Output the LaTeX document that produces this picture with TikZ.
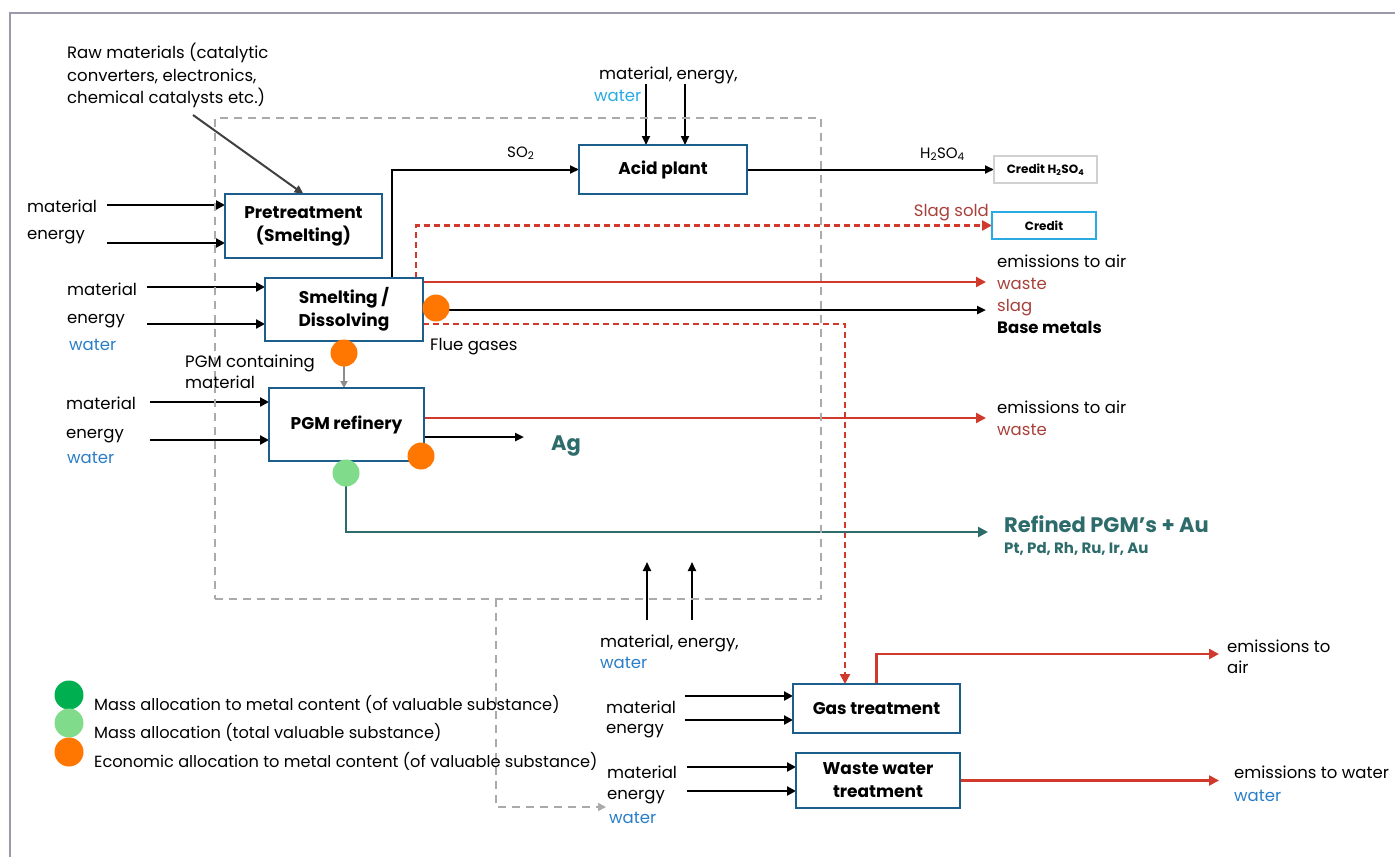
\documentclass[tikz,border=0pt]{standalone}
\usepackage{fontspec}
\setmainfont{Poppins}
\usetikzlibrary{arrows.meta,calc}
\definecolor{boxblue}{HTML}{1B5E8C}
\definecolor{myred}{HTML}{D0392B}
\definecolor{slagred}{HTML}{A8403A}
\definecolor{wblue}{HTML}{2A7EC8}
\definecolor{lblue}{HTML}{29ABE2}
\definecolor{tealc}{HTML}{2E6B6B}
\definecolor{orng}{HTML}{FF7700}
\definecolor{lgreen}{HTML}{80DC8A}
\definecolor{dgreen}{HTML}{00B050}
\definecolor{dashgray}{HTML}{AAAAAA}
\definecolor{framec}{HTML}{9A9AAA}
\definecolor{credgray}{HTML}{D0D0D0}
\pgfdeclarelayer{bg}
\pgfsetlayers{bg,main}
\begin{document}
\begin{tikzpicture}[x=1pt,y=-1pt,
  proc/.style={draw=boxblue, line width=1.6pt, fill=white, align=center, inner sep=0pt, outer sep=0pt, font=\bfseries\fontsize{17}{23}\selectfont},
  lbl/.style={anchor=base west, inner sep=0pt, font=\fontsize{16.5}{20}\selectfont},
  lblE/.style={anchor=base east, inner sep=0pt, font=\fontsize{16.5}{20}\selectfont},
  legtxt/.style={lbl, font=\fontsize{16.2}{20}\selectfont},
  arr/.style={-{Triangle[length=9pt,width=9pt]}, line width=2.5pt},
  thinarr/.style={-{Triangle[length=9pt,width=8pt]}, line width=2pt},
  redarr/.style={-{Triangle[length=10pt,width=10pt]}, draw=myred, line width=2.4pt},
  reddash/.style={redarr, dash pattern=on 6pt off 4pt},
  dot/.style={circle, inner sep=0pt, outer sep=0pt, minimum size=27pt},
  credbox/.style={draw, line width=1.5pt, fill=white, inner sep=0pt, outer sep=0pt, font=\bfseries\fontsize{12}{14}\selectfont}
]
\useasboundingbox (0,0) rectangle (1395,857);
% frame
\draw[framec, line width=1.5pt] (10,857) -- (10,13) -- (1395,13);
% system boundary
\node[draw=dashgray, line width=1.6pt, dash pattern=on 8pt off 6pt, minimum width=606pt, minimum height=481pt, inner sep=0pt, outer sep=0pt] (sys) at (518,358.5) {};

% process boxes
\node[proc, minimum width=157pt, minimum height=64pt] (pre) at (303.5,226) {Pretreatment\\(Smelting)};
\node[proc, minimum width=158pt, minimum height=63pt] (smelt) at (344,309.5) {Smelting /\\Dissolving};
\node[proc, minimum width=168pt, minimum height=49pt] (acid) at (663,169.5) {Acid plant};
\node[proc, minimum width=155pt, minimum height=73pt] (pgm) at (346.5,424.5) {PGM refinery};
\node[proc, minimum width=167pt, minimum height=49pt] (gas) at (876.5,708.5) {Gas treatment};
\node[proc, minimum width=164pt, minimum height=55pt] (ww) at (878,780.5) {Waste water\\treatment};
\node[credbox, draw=credgray, minimum width=103pt, minimum height=27pt] (credh) at (1045.5,169.5) {Credit H\textsubscript{2}SO\textsubscript{4}};
\node[credbox, draw=lblue, minimum width=104pt, minimum height=27pt] (cred) at (1044,225.5) {Credit};

% allocation dots
\node[dot, fill=orng] (od1) at (436,308) {};
\node[dot, fill=orng] (od2) at (344,353) {};
\node[dot, fill=orng] (od3) at (421,456) {};
\node[dot, fill=lgreen] (gd) at (346,473) {};

% text labels
\node[lbl] (raw1) at (67,58) {Raw materials (catalytic};
\node[lbl] (raw2) at (67,81) {converters, electronics,};
\node[lbl] (raw3) at (67,103) {chemical catalysts etc.)};
\node[lbl] (tm1) at (27,212) {material};
\node[lbl] (te1) at (27,239) {energy};
\node[lbl] (tm2) at (67,295) {material};
\node[lbl] (te2) at (67,323) {energy};
\node[lbl, text=wblue] (tw2) at (69,350) {water};
\node[lbl] (tpgm1) at (185,367) {PGM containing};
\node[lbl] (tpgm2) at (185,388) {material};
\node[lbl] (tm3) at (66,409) {material};
\node[lbl] (te3) at (66,438) {energy};
\node[lbl, text=wblue] (tw3) at (67,463) {water};
\node[lbl, font=\fontsize{15}{18}\selectfont] (tso2) at (507,157) {SO\textsubscript{2}};
\node[lbl] (tma) at (599,79) {material, energy,};
\node[lbl, text=lblue] (twa) at (594,101) {water};
\node[lbl, font=\fontsize{15}{18}\selectfont] (th2) at (920,158) {H\textsubscript{2}SO\textsubscript{4}};
\node[lblE, text=slagred] (tslag) at (989,216) {Slag sold};
\node[lbl] (tea1) at (997,267) {emissions to air};
\node[lbl, text=slagred] (twst1) at (997,289) {waste};
\node[lbl, text=slagred] (tsl) at (997,311) {slag};
\node[lbl, font=\bfseries\fontsize{16.5}{20}\selectfont] (tbm) at (997,333) {Base metals};
\node[lbl] (tflue) at (430,350) {Flue gases};
\node[lbl] (tea2) at (997,413) {emissions to air};
\node[lbl, text=slagred] (twst2) at (997,435) {waste};
\node[lbl, text=tealc, font=\bfseries\fontsize{21}{24}\selectfont] (tag) at (551,450) {Ag};
\node[lbl, text=tealc, font=\bfseries\fontsize{21}{24}\selectfont] (tref) at (1004,532) {Refined PGM’s + Au};
\node[lbl, text=tealc, font=\bfseries\fontsize{15}{18}\selectfont] (tpt) at (1004,553) {Pt, Pd, Rh, Ru, Ir, Au};
\node[lbl] (tmb) at (600,647) {material, energy,};
\node[lbl, text=wblue] (twb) at (600,668) {water};
\node[lbl] (tm4) at (606,713) {material};
\node[lbl] (te4) at (606,733) {energy};
\node[lbl] (tm5) at (607,778) {material};
\node[lbl] (te5) at (607,799) {energy};
\node[lbl, text=wblue] (tw5) at (609,823) {water};
\node[lbl] (tgea1) at (1227,652) {emissions to};
\node[lbl] (tgea2) at (1227,673) {air};
\node[lbl] (tew) at (1234,778) {emissions to water};
\node[lbl, text=wblue] (tww) at (1234,801) {water};

% legend
\node[dot, fill=dgreen, minimum size=29pt] (lg1) at (69,695) {};
\node[dot, fill=lgreen, minimum size=29pt] (lg2) at (69,723) {};
\node[dot, fill=orng, minimum size=29pt] (lg3) at (69,752) {};
\node[legtxt] (ll1) at (94,710) {Mass allocation to metal content (of valuable substance)};
\node[legtxt] (ll2) at (94,738) {Mass allocation (total valuable substance)};
\node[legtxt] (ll3) at (94,767) {Economic allocation to metal content (of valuable substance)};

% free ends
\coordinate (rawS) at (193,115);
\coordinate (pm1) at (107,205);
\coordinate (pe1) at (107,243);
\coordinate (sm1) at (147,287);
\coordinate (se1) at (147,324);
\coordinate (pm2) at (150,402);
\coordinate (pe2) at (150,440);
\coordinate (ai1) at (646,84);
\coordinate (ai2) at (685,84);
\coordinate (emT) at (986,282);
\coordinate (bmT) at (986,310);
\coordinate (fl) at (845,324);
\coordinate (em2T) at (986,418);
\coordinate (agT) at (524,437);
\coordinate (refT) at (988,532);
\coordinate (ub1) at (647,620);
\coordinate (ut1) at (647,562);
\coordinate (ub2) at (692,620);
\coordinate (ut2) at (692,562);
\coordinate (gm) at (685,696);
\coordinate (ge) at (685,720);
\coordinate (gaT) at (1219,654);
\coordinate (wm) at (687,767);
\coordinate (we) at (687,791);
\coordinate (wwT) at (1219,780.5);
\coordinate (gdS) at (496,599);
\coordinate (gdC) at (496,807);
\coordinate (gdT) at (606,807);

\begin{pgfonlayer}{bg}
\draw[thinarr, draw=black!75] (rawS) -- (pre.north);
\draw[arr] (pm1) -- (pm1 -| pre.west);
\draw[arr] (pe1) -- (pe1 -| pre.west);
\draw[arr] (sm1) -- (sm1 -| smelt.west);
\draw[arr] (se1) -- (se1 -| smelt.west);
\draw[arr] (pm2) -- (pm2 -| pgm.west);
\draw[arr] (pe2) -- (pe2 -| pgm.west);
\draw[thinarr] ($(smelt.north west)+(127,0)$) |- (acid.west);
\draw[thinarr] (acid.east) -- (credh.west);
\draw[thinarr] (ai1) -- (ai1 |- acid.north);
\draw[thinarr] (ai2) -- (ai2 |- acid.north);
\draw[reddash] ($(smelt.north west)+(151,0)$) |- (cred.west);
\draw[redarr] ($(smelt.north east)+(0,4)$) -- (emT);
\draw[thinarr, line width=2.4pt] ($(od1.center)+(0,2)$) -- (bmT);
\draw[reddash] ($(smelt.north east)+(0,46)$) -- (fl) -- (fl |- gas.north);
\draw[draw=black!45, line width=1.8pt, -{Triangle[length=7pt,width=7pt]}] (od2.center) -- (od2.center |- pgm.north);
\draw[redarr] ($(pgm.north east)+(0,30)$) -- (em2T);
\draw[thinarr, line width=2.4pt] ($(pgm.north east)+(0,49)$) -- (agT);
\draw[draw=tealc, line width=2.5pt, -{Triangle[length=10pt,width=10pt]}] (gd.center) |- (refT);
\draw[thinarr] (ub1) -- (ut1);
\draw[thinarr] (ub2) -- (ut2);
\draw[arr] (gm) -- (gm -| gas.west);
\draw[arr] (ge) -- (ge -| gas.west);
\draw[redarr] (gas.north) |- (gaT);
\draw[arr] (wm) -- (wm -| ww.west);
\draw[arr] (we) -- (we -| ww.west);
\draw[redarr] (ww.east) -- (wwT);
\draw[draw=dashgray, line width=1.6pt, dash pattern=on 8pt off 6pt, -{Triangle[length=8pt,width=8pt]}] (gdS) -- (gdC) -- (gdT);
\end{pgfonlayer}
\end{tikzpicture}
\end{document}
